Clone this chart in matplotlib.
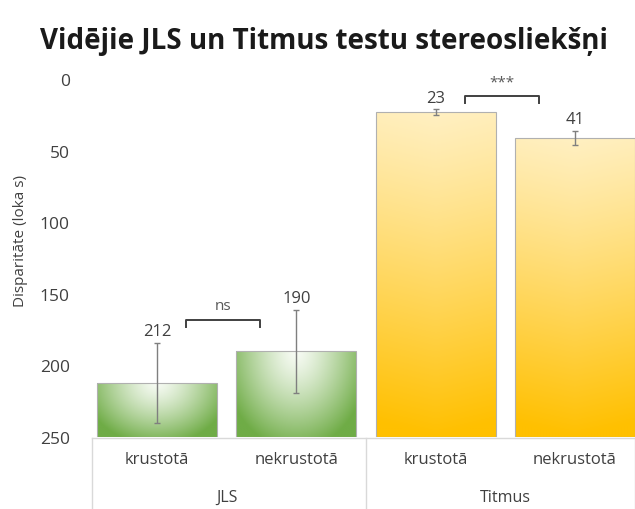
import numpy as np
import matplotlib
matplotlib.use("Agg")
import matplotlib.pyplot as plt
from matplotlib.colors import to_rgb

# Dados
grupos = ["JLS", "Titmus"]
condicoes = ["krustotā", "nekrustotā"]
valores = [212, 190, 23, 41]
erros = [28, 29, 2, 5]
sig = ["ns", "***"]

plt.rcParams["font.family"] = ["Open Sans", "DejaVu Sans"]

fig = plt.figure(figsize=(6.35, 5.1), dpi=100)
ax = fig.add_axes([0.145, 0.141, 0.855, 0.702])

x = np.arange(len(valores))
base = 250
bars = ax.bar(x, np.array(valores) - base, bottom=base, width=0.86,
              color="none", edgecolor="#b0b0b0", linewidth=0.8, zorder=3)


def grad_img(kind, n=200):
    u = np.linspace(0, 1, n)[None, :]
    t = np.linspace(0, 1, n)[:, None]
    if kind == "g":
        d = np.sqrt(((u - 0.5) / 0.62) ** 2 + (t / 1.15) ** 2)
        d = np.clip(d, 0, 1) ** 1.3
        c0, c1 = np.array(to_rgb("#f7fbf4")), np.array(to_rgb("#6fac46"))
    else:
        d = np.clip(0.1 + 0.9 * t + 0.08 * np.abs(u - 0.5), 0, 1) ** 1.2
        c0, c1 = np.array(to_rgb("#fff3cf")), np.array(to_rgb("#ffc000"))
    return c0 + (c1 - c0) * d[..., None]


# Preencher barras com gradiente
for i, b in enumerate(bars):
    kind = "g" if i < 2 else "y"
    x0, w = b.get_x(), b.get_width()
    im = ax.imshow(grad_img(kind), extent=[x0, x0 + w, base, valores[i]],
                   aspect="auto", zorder=2, interpolation="bilinear")
    im.set_clip_path(b)

ax.set_xlim(-0.465, 3.43)
ax.set_ylim(250, 0)

ax.errorbar(x, valores, yerr=erros, fmt="none", ecolor="#7f7f7f",
            elinewidth=1, capsize=2.5, capthick=1, zorder=4)

# Rótulos de valor
for i, v in enumerate(valores):
    ax.text(x[i], v - erros[i] - 8, str(v), ha="center", va="center",
            fontsize=12, color="#404040", zorder=5)

# Colchetes de significância
for g, s in enumerate(sig):
    i1, i2 = 2 * g, 2 * g + 1
    xa, xb = x[i1] + 0.21, x[i2] - 0.26
    ytop = valores[i1] - erros[i1] - 16 if g == 0 else 12
    ax.plot([xa, xa, xb, xb], [ytop + 5, ytop, ytop, ytop + 5],
            color="#404040", lw=1.4, zorder=5)
    ax.text((xa + xb) / 2, ytop - 10, s, ha="center", va="center",
            fontsize=11, color="#595959", zorder=5)

ax.set_yticks([0, 50, 100, 150, 200, 250])
ax.tick_params(axis="y", length=0, labelsize=12.5, labelcolor="#404040", pad=16)
ax.set_xticks([])
for sp in ax.spines.values():
    sp.set_visible(False)
ax.set_ylabel("Disparitāte (loka s)", fontsize=11, color="#404040")
ax.yaxis.set_label_coords(-0.118, 0.55)

# Eixo de categorias
lc = "#d9d9d9"
ax.plot([-0.465, 3.43], [250.8, 250.8], color=lc, lw=1, clip_on=False, zorder=1)
for xv in [-0.465, 1.5, 3.43]:
    ax.plot([xv, xv], [250.8, 305], color=lc, lw=1, clip_on=False)
for i in range(len(valores)):
    ax.text(x[i], 265, condicoes[i % 2], ha="center", va="center",
            fontsize=12, color="#404040")
for g, nome in enumerate(grupos):
    ax.text(2 * g + 0.5, 292, nome, ha="center", va="center",
            fontsize=11.5, color="#404040")

fig.text(0.51, 0.918, "Vidējie JLS un Titmus testu stereosliekšņi",
         ha="center", va="center", fontsize=20, fontweight="bold",
         color="#1a1a1a")

fig.savefig("out.png", dpi=100)
